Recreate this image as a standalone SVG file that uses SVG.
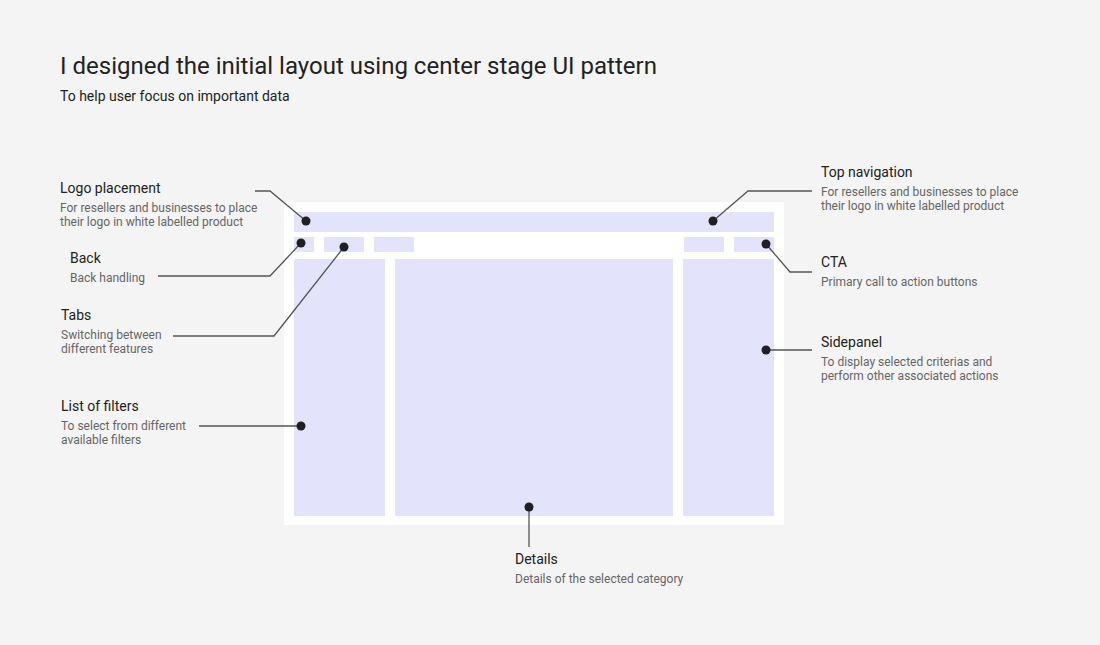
<svg xmlns="http://www.w3.org/2000/svg" width="1100" height="645" viewBox="0 0 1100 645">
<style>
text{font-family:Roboto,"Liberation Sans",sans-serif}
.h{font-size:24px;fill:#222}
.s{font-size:14px;fill:#222}
.t{font-size:14px;fill:#222}
.d{font-size:12px;fill:#666}
.b{fill:#e3e3fb}
.l{fill:none;stroke:#555;stroke-width:1.3}
.dot{fill:#1f1f24}
</style>
<rect width="1100" height="645" fill="#f4f4f4"/>
<text class="h" x="60" y="74">I designed the initial layout using center stage UI pattern</text>
<text class="s" x="60" y="101">To help user focus on important data</text>
<g id="frame">
<rect x="284" y="202" width="500" height="323" fill="#fff"/>
<rect class="b" x="294" y="212" width="480" height="20"/>
<rect class="b" x="294" y="237" width="20" height="15"/>
<rect class="b" x="324" y="237" width="40" height="15"/>
<rect class="b" x="374" y="237" width="40" height="15"/>
<rect class="b" x="684" y="237" width="40" height="15"/>
<rect class="b" x="734" y="237" width="40" height="15"/>
<rect class="b" x="294" y="259" width="91" height="257"/>
<rect class="b" x="395" y="259" width="278" height="257"/>
<rect class="b" x="683" y="259" width="91" height="257"/>
</g>
<g id="connectors">
<polyline class="l" points="255,191 270,191 306,221"/>
<polyline class="l" points="812,191 748,191 713,221"/>
<polyline class="l" points="158,276 270,276 301,243"/>
<polyline class="l" points="173,336 274,336 344,247"/>
<polyline class="l" points="812,272 790,272 766,244"/>
<polyline class="l" points="812,350 766,350"/>
<polyline class="l" points="199,426 301,426"/>
<polyline class="l" points="529,507 529,547"/>
<circle class="dot" cx="306" cy="221" r="4.5"/>
<circle class="dot" cx="713" cy="221" r="4.5"/>
<circle class="dot" cx="301" cy="243" r="4.5"/>
<circle class="dot" cx="344" cy="247" r="4.5"/>
<circle class="dot" cx="766" cy="244" r="4.5"/>
<circle class="dot" cx="766" cy="350" r="4.5"/>
<circle class="dot" cx="301" cy="426" r="4.5"/>
<circle class="dot" cx="529" cy="507" r="4.5"/>
</g>
<g id="logo"><text class="t" x="60" y="193">Logo placement</text><text class="d" x="60" y="212">For resellers and businesses to place</text><text class="d" x="60" y="226">their logo in white labelled product</text></g>
<g id="back"><text class="t" x="70" y="263">Back</text><text class="d" x="70" y="282">Back handling</text></g>
<g id="tabs"><text class="t" x="61" y="320">Tabs</text><text class="d" x="61" y="339">Switching between</text><text class="d" x="61" y="353">different features</text></g>
<g id="filters"><text class="t" x="61" y="411">List of filters</text><text class="d" x="61" y="430">To select from different</text><text class="d" x="61" y="444">available filters</text></g>
<g id="topnav"><text class="t" x="821" y="177">Top navigation</text><text class="d" x="821" y="196">For resellers and businesses to place</text><text class="d" x="821" y="210">their logo in white labelled product</text></g>
<g id="cta"><text class="t" x="821" y="267">CTA</text><text class="d" x="821" y="286">Primary call to action buttons</text></g>
<g id="sidepanel"><text class="t" x="821" y="347">Sidepanel</text><text class="d" x="821" y="366">To display selected criterias and</text><text class="d" x="821" y="380">perform other associated actions</text></g>
<g id="details"><text class="t" x="515" y="564">Details</text><text class="d" x="515" y="583">Details of the selected category</text></g>
</svg>
